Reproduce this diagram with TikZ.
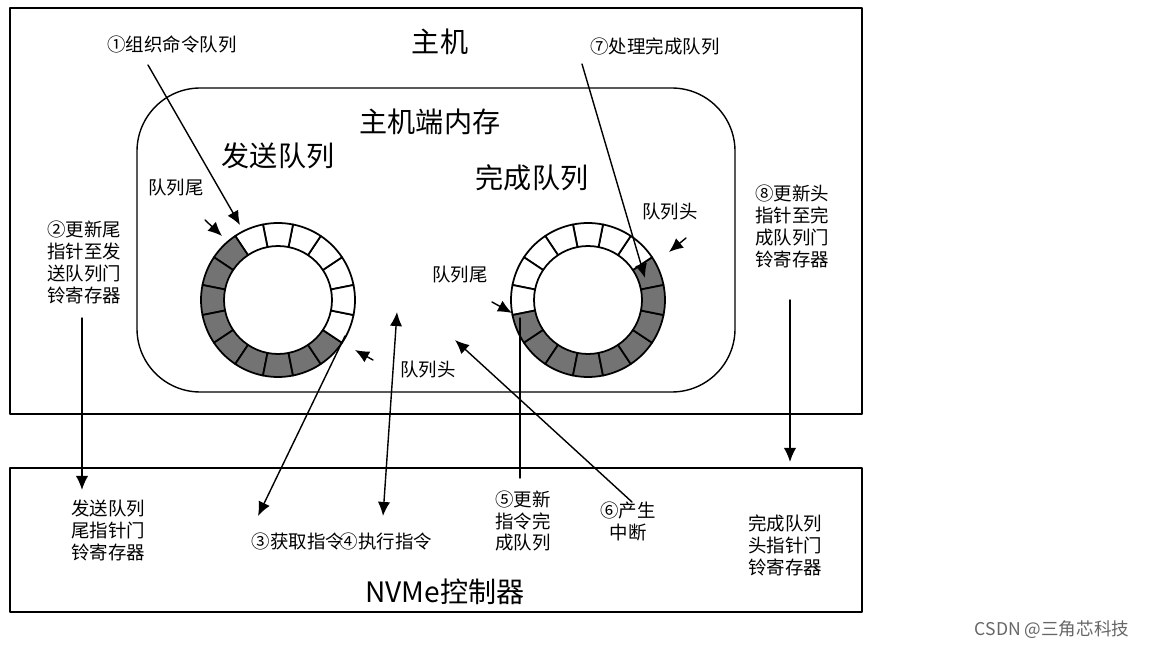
\documentclass[tikz,border=0pt]{standalone}
\usepackage{fontspec}
\setmainfont{Noto Sans CJK SC}
\usetikzlibrary{arrows.meta,calc}

\begin{document}
\begin{tikzpicture}[x=0.02cm, y=-0.02cm, >=Latex, line cap=round, line join=round,
	lbl/.style={font=\fontsize{10.5}{12.5}\selectfont, align=center, inner sep=1pt},
	big/.style={font=\fontsize{16}{18}\selectfont, inner sep=1pt},
	arr/.style={thick, ->, >={Latex[length=8pt,width=7pt]}}]
	\useasboundingbox (0,0) rectangle (1152,648);

	% --- boxes ---
	\draw[thick] (10,8) rectangle (862,414);
	\draw[thick, rounded corners=36pt] (137,88) rectangle (735,392);
	\draw[thick] (10,468) rectangle (862,612);

	% --- rings: 16 slots, gray where filled ---
	\def\rout{1.54cm} \def\rin{1.08cm}
	\foreach \cx/\cy/\grays/\nm in {278/300/{5,6,7,8,9,10,11,12,13}/SQ, 588/300/{8,9,10,11,12,13,14,15,0}/CQ}{
		\coordinate (\nm) at (\cx,\cy);
		\foreach \i in {0,...,15}{
			\pgfmathsetmacro{\a}{11.25+22.5*\i}
			\pgfmathsetmacro{\b}{\a+22.5}
			\def\col{white}
			\foreach \g in \grays {\ifnum\g=\i \global\def\col{black!55}\fi}
			\filldraw[fill=\col, line width=1pt] ($(\nm)+(\a:\rout)$) arc[start angle=\a, end angle=\b, radius=\rout]
				-- ($(\nm)+(\b:\rin)$) arc[start angle=\b, end angle=\a, radius=\rin] -- cycle;
		}
	}

	% --- texts ---
	\node[big] (host) at (440,42) {主机};
	\node[big] (mem) at (430,122) {主机端内存};
	\node[big] (sqt) at (278,156) {发送队列};
	\node[big] (cqt) at (532,178) {完成队列};
	\node[big] (nvme) at (445,592) {NVMe控制器};

	\node[lbl] (s1) at (172,44) {①组织命令队列};
	\node[lbl] (s7) at (655,46) {⑦处理完成队列};
	\node[lbl] (sqtail) at (176,188) {队列尾};
	\node[lbl] (sqhead) at (428,370) {队列头};
	\node[lbl] (cqtail) at (460,275) {队列尾};
	\node[lbl] (cqhead) at (670,212) {队列头};
	\node[lbl] (s2) at (84,262) {②更新尾\\指针至发\\送队列门\\铃寄存器};
	\node[lbl] (s8) at (792,226) {⑧更新头\\指针至完\\成队列门\\铃寄存器};
	\node[lbl] (sqdb) at (108,530) {发送队列\\尾指针门\\铃寄存器};
	\node[lbl] (cqdb) at (785,545) {完成队列\\头指针门\\铃寄存器};
	\node[lbl] (s3) at (298,541) {③获取指令};
	\node[lbl] (s4) at (386,541) {④执行指令};
	\node[lbl] (s5) at (523,521) {⑤更新\\指令完\\成队列};
	\node[lbl] (s6) at (628,521) {⑥产生\\中断};
	\node[font=\fontsize{10}{12}\selectfont, text=black!60] (mark) at (1052,630) {CSDN @三角芯科技};

	% --- connectors ---
	\coordinate (a1) at (148,65);   \coordinate (b1) at (240,225);
	\coordinate (a2) at (82,318);   \coordinate (b2) at (82,490);
	\coordinate (a3) at (345,336);  \coordinate (b3) at (258,516);
	\coordinate (a4) at (383,516);  \coordinate (b4) at (397,312);
	\coordinate (a5) at (520,318);  \coordinate (b5) at (520,478);
	\coordinate (a6) at (632,502);  \coordinate (b6) at (455,340);
	\coordinate (a7) at (582,64);   \coordinate (b7) at (645,278);
	\coordinate (a8) at (790,300);  \coordinate (b8) at (790,462);

	\draw[arr] (a1) -- (b1);
	\draw[arr] (a2) -- (b2);
	\draw[arr] (a3) -- (b3);
	\draw[arr, <->] (a4) -- (b4);
	\draw[thick] (a5) -- (b5);
	\draw[arr] (a6) -- (b6);
	\draw[arr] (a7) -- (b7);
	\draw[arr] (a8) -- (b8);

	% short pointers
	\draw[arr] (205,220) -- (222,236);
	\draw[arr] (373,360) -- (355,350);
	\draw[arr] (492,302) -- (512,313);
	\draw[arr] (686,238) -- (669,252);
\end{tikzpicture}
\end{document}
